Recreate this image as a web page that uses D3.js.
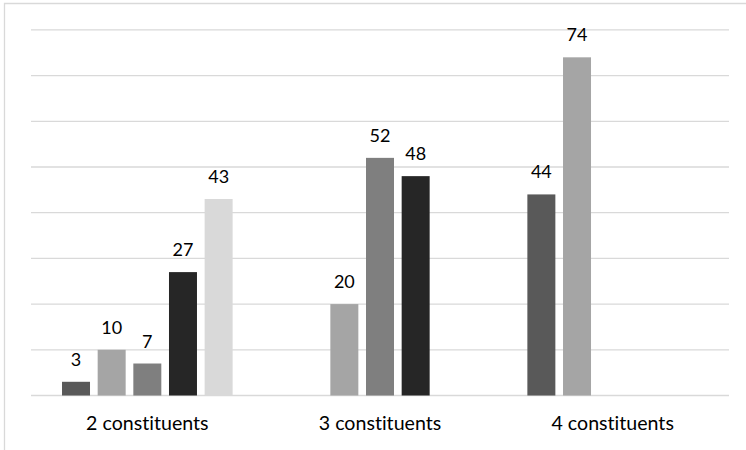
<!DOCTYPE html>
<html>
<head>
<meta charset="utf-8">
<script src="https://cdn.jsdelivr.net/npm/d3@7"></script>
<style>
  html, body { margin: 0; padding: 0; background: #fff; }
  svg { display: block; }
  text { font-family: Lato, "Open Sans", sans-serif; fill: #000; font-variant-ligatures: none; }
</style>
</head>
<body>
<svg id="chart" width="746" height="450"></svg>
<script>
// Categories along the x axis
const categories = ["2 constituents", "3 constituents", "4 constituents"];

// One array per series; null means no bar in that group
const seriesA = [3, null, 44];
const seriesB = [10, 20, 74];
const seriesC = [7, 52, null];
const seriesD = [27, 48, null];
const seriesE = [43, null, null];

const seriesColors = ["#595959", "#a5a5a5", "#7f7f7f", "#262626", "#d9d9d9"];
const yTicks = [0, 10, 20, 30, 40, 50, 60, 70, 80];

const allSeries = [seriesA, seriesB, seriesC, seriesD, seriesE];

const svg = d3.select("#chart");
const W = 746, H = 450;

// chart frame
svg.append("path")
  .attr("d", `M4.5,${H + 5} V3.5 H${W + 5}`)
  .attr("fill", "none")
  .attr("stroke", "#d9d9d9")
  .attr("stroke-width", 1.3);

const plot = { left: 31, right: 729, top: 29.9, bottom: 395.5 };

const x0 = d3.scaleBand()
  .domain(categories)
  .range([plot.left, plot.right])
  .paddingInner(0.2667)
  .paddingOuter(0.1333);

const x1 = d3.scaleBand()
  .domain(d3.range(allSeries.length))
  .range([0, x0.bandwidth()])
  .paddingInner(0.215)
  .paddingOuter(0);

const y = d3.scaleLinear()
  .domain([0, 80])
  .range([plot.bottom, plot.top]);

// horizontal gridlines
svg.append("g")
  .selectAll("line")
  .data(yTicks)
  .join("line")
  .attr("x1", plot.left)
  .attr("x2", plot.right)
  .attr("y1", d => y(d))
  .attr("y2", d => y(d))
  .attr("stroke", "#d9d9d9")
  .attr("stroke-width", 1.3);

// bars, grouped by category
const bars = [];
categories.forEach((cat, ci) => {
  allSeries.forEach((s, si) => {
    if (s[ci] != null) bars.push({ cat, si, v: s[ci] });
  });
});

svg.append("g")
  .selectAll("rect")
  .data(bars)
  .join("rect")
  .attr("x", d => x0(d.cat) + x1(d.si))
  .attr("width", x1.bandwidth())
  .attr("y", d => y(d.v))
  .attr("height", d => y(0) - y(d.v))
  .attr("fill", d => seriesColors[d.si]);

// value labels
svg.append("g")
  .selectAll("text")
  .data(bars)
  .join("text")
  .attr("x", d => x0(d.cat) + x1(d.si) + x1.bandwidth() / 2)
  .attr("y", d => y(d.v) - 16)
  .attr("text-anchor", "middle")
  .attr("font-size", 18)
  .text(d => d.v);

// category axis labels
const xAxis = d3.axisBottom(x0).tickSize(0).tickPadding(0);
const gx = svg.append("g")
  .attr("transform", `translate(0,${plot.bottom})`)
  .call(xAxis);
gx.select(".domain").remove();
gx.selectAll("text")
  .attr("dy", null)
  .attr("y", 34.5)
  .attr("font-size", 19.6)
  .attr("font-family", "Lato, 'Open Sans', sans-serif")
  .attr("fill", "#000");
</script>
</body>
</html>
